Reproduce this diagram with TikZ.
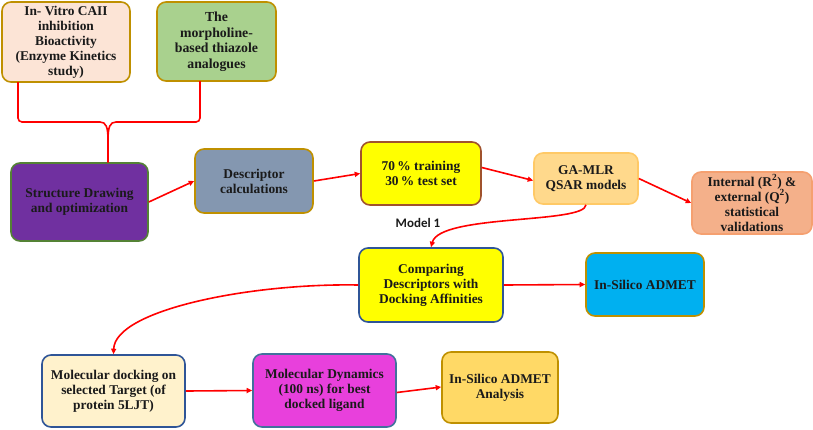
\documentclass[tikz,border=0pt]{standalone}
\usepackage{fontspec}
\setmainfont{Liberation Serif}
\newfontfamily\labelfont{Carlito}
\usetikzlibrary{arrows.meta}
\definecolor{peach}{HTML}{FCE4D6}
\definecolor{gold}{HTML}{BF9000}
\definecolor{leaf}{HTML}{A9D18E}
\definecolor{purp}{HTML}{7030A0}
\definecolor{olive}{HTML}{548235}
\definecolor{slate}{HTML}{8497B0}
\definecolor{yel}{HTML}{FFFF00}
\definecolor{brownb}{HTML}{A0522D}
\definecolor{gaf}{HTML}{FFD98C}
\definecolor{gab}{HTML}{FFC966}
\definecolor{salmon}{HTML}{F4B08A}
\definecolor{salmonb}{HTML}{F5A070}
\definecolor{navyb}{HTML}{2F5597}
\definecolor{sky}{HTML}{00B0F0}
\definecolor{cream}{HTML}{FFF2CC}
\definecolor{magf}{HTML}{E840DC}
\definecolor{steel}{HTML}{41719C}
\definecolor{amber}{HTML}{FFD966}
\definecolor{txt}{HTML}{1A1A1A}
\tikzset{
  box/.style={draw, rounded corners=9pt, line width=1.6pt, align=center,
    text=txt, inner sep=1pt,
    font=\bfseries\fontsize{13.4}{15}\selectfont},
  link/.style={draw=red, line width=1.6pt, -{Triangle[length=5.5pt,width=5pt]}},
  plain/.style={draw=red, line width=1.6pt}
}
\begin{document}
\begin{tikzpicture}[x=1pt,y=-1pt]
\useasboundingbox (0,0) rectangle (813,429);
\node[box, fill=peach, draw=gold, minimum width=128pt, minimum height=80pt] (A) at (66,42)
  {In- Vitro CAII\\inhibition\\Bioactivity\\(Enzyme Kinetics\\study)};
\node[box, fill=leaf, draw=gold, minimum width=119pt, minimum height=79pt,
  font=\bfseries\fontsize{13.8}{15.5}\selectfont] (B) at (216.5,41.5)
  {The\\morpholine-\\based thiazole\\analogues};
\node[box, fill=purp, draw=olive, minimum width=137pt, minimum height=78pt] (C) at (79.5,202)
  {Structure Drawing\\and optimization};
\node[box, fill=slate, draw=gold, minimum width=118pt, minimum height=64pt] (D) at (254,181)
  {Descriptor\\calculations};
\node[box, fill=yel, draw=brownb, minimum width=120pt, minimum height=63pt] (E) at (421,173.5)
  {70\,\% training\\30\,\% test set};
\node[box, fill=gaf, draw=gab, minimum width=104pt, minimum height=51pt] (F) at (586,178.5)
  {GA-MLR\\QSAR models};
\node[box, fill=salmon, draw=salmonb, minimum width=120pt, minimum height=62pt] (G) at (752,203)
  {Internal (R\textsuperscript{2}) \&\\external (Q\textsuperscript{2})\\statistical\\validations};
\node[box, fill=yel, draw=navyb, minimum width=144pt, minimum height=74pt] (H) at (431,285)
  {Comparing\\Descriptors with\\Docking Affinities};
\node[box, fill=sky, draw=gold, minimum width=118pt, minimum height=63pt] (I) at (645,284.5)
  {In-Silico ADMET};
\node[box, fill=cream, draw=navyb, minimum width=143pt, minimum height=72pt] (J) at (113.5,391)
  {Molecular docking on\\selected Target (of\\protein 5LJT)};
\node[box, fill=magf, draw=steel, minimum width=143pt, minimum height=73pt] (K) at (324.5,390.5)
  {Molecular Dynamics\\(100 ns) for best\\docked ligand};
\node[box, fill=amber, draw=gold, minimum width=116pt, minimum height=71pt] (L) at (500,387.5)
  {In-Silico ADMET\\Analysis};
\node[font=\labelfont\bfseries\fontsize{13}{15}\selectfont, text=txt] (M) at (418,223) {Model 1};
% brace
\coordinate (a1) at (18,82);
\coordinate (b1) at (200,81);
\coordinate (c1) at (108,162.5);
\draw[plain, rounded corners=4pt] (a1) -- (18,122) -- (100,122);
\draw[plain] (100,122) .. controls (106,122) and (108,127) .. (108,140) -- (c1);
\draw[plain] (108,140) .. controls (108,127) and (110,122) .. (116,122);
\draw[plain, rounded corners=4pt] (116,122) -- (200,122) -- (b1);
% arrows
\draw[link] (C.east) -- (D.west);
\draw[link] (D.east) -- (E.west);
\draw[link] ([yshift=6pt]E.east) -- ([yshift=-2pt]F.west);
\draw[link] (F.east) -- (G.west);
\draw[link] (F.south) .. controls (585,224) and (440,214) .. (H.north);
\draw[link] (H.east) -- (I.west);
\draw[link] (H.west) .. controls (250,283) and (115,310) .. (J.north);
\draw[link] (J.east) -- (K.west);
\draw[link] ([yshift=-2pt]K.east) -- ([yshift=0.5pt]L.west);
\end{tikzpicture}
\end{document}
